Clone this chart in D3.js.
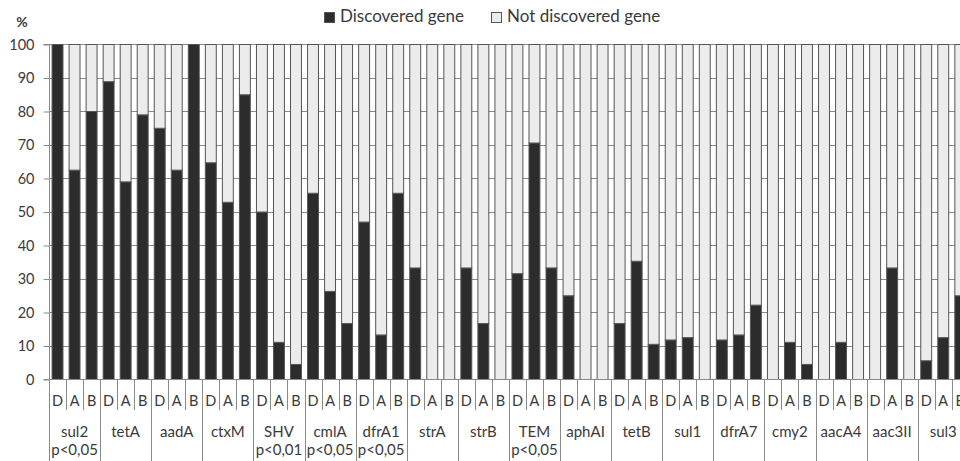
<!DOCTYPE html>
<html>
<head>
<meta charset="utf-8">
<script src="https://cdn.jsdelivr.net/npm/d3@7"></script>
<style>
  html, body { margin: 0; padding: 0; background: #fff; overflow: hidden; }
  svg { display: block; font-family: Lato, "Open Sans", sans-serif; }
</style>
</head>
<body>
<svg id="chart" width="960" height="461"></svg>
<script>
// ---- data ----
const genes = ["sul2","tetA","aadA","ctxM","SHV","cmlA","dfrA1","strA","strB","TEM","aphAI","tetB","sul1","dfrA7","cmy2","aacA4","aac3II","sul3"];
const pLabels = ["p<0,05","","","","p<0,01","p<0,05","p<0,05","","","p<0,05","","","","","","","",""];
const groupsSub = ["D","A","B"];
const discoveredD = [100, 88.9, 75, 64.7, 50, 55.6, 47, 33.3, 33.3, 31.6, 25, 16.7, 11.8, 11.8, 0, 0, 0, 5.6];
const discoveredA = [62.5, 59, 62.5, 52.9, 11.1, 26.3, 13.3, 0, 16.7, 70.6, 0, 35.3, 12.5, 13.3, 11.1, 11.1, 33.3, 12.5];
const discoveredB = [80, 79, 100, 85, 4.5, 16.7, 55.6, 0, 0, 33.3, 0, 10.5, 0, 22.2, 4.5, 0, 0, 25];
const yTicks = [0,10,20,30,40,50,60,70,80,90,100];
const seriesKeys = ["Discovered gene","Not discovered gene"];

(function () {
// ---- build table ----
const subValues = {D: discoveredD, A: discoveredA, B: discoveredB};
const rows = [];
genes.forEach((g, gi) => {
  groupsSub.forEach(s => {
    const v = subValues[s][gi];
    rows.push({key: g + "_" + s, gene: g, sub: s, "Discovered gene": v, "Not discovered gene": 100 - v});
  });
});
const stacked = d3.stack().keys(seriesKeys)(rows);

// ---- layout ----
const svg = d3.select("#chart");
const W = 960, H = 461;
const mLeft = 49, mTop = 44, mBottom = 379;
const step = 51.1 / 3;
const x = d3.scaleBand()
  .domain(rows.map(r => r.key))
  .range([mLeft, mLeft + step * rows.length])
  .paddingInner(0.3)
  .paddingOuter(0.15);
const y = d3.scaleLinear().domain([0, 100]).range([mBottom, mTop]);
const colors = {"Discovered gene": "#2c2c2c", "Not discovered gene": "#ececec"};
const textColor = "#3a3a3a";
const lineColor = "#8a8a8a";

// gridlines
svg.append("g").selectAll("line").data(yTicks).join("line")
  .attr("x1", mLeft).attr("x2", W)
  .attr("y1", d => Math.round(y(d)) + 0.5).attr("y2", d => Math.round(y(d)) + 0.5)
  .attr("stroke", lineColor).attr("stroke-width", 1);

// bars
svg.append("g").selectAll("g").data(stacked).join("g")
  .attr("fill", d => colors[d.key])
  .selectAll("rect").data(d => d).join("rect")
  .attr("x", d => x(d.data.key) + 0.5)
  .attr("y", d => y(d[1]) + 0.5)
  .attr("width", x.bandwidth() - 1)
  .attr("height", d => Math.max(0, y(d[0]) - y(d[1])))
  .attr("stroke", "#555")
  .attr("stroke-width", 1);

// y axis
const yAxis = d3.axisLeft(y).tickValues(yTicks).tickSize(6).tickPadding(9);
const yg = svg.append("g").attr("transform", `translate(${mLeft + 0.5},0.5)`).call(yAxis);
yg.select(".domain").attr("stroke", lineColor).attr("d", `M-6,${mTop}H0V${mBottom}H-6`);
yg.selectAll(".tick line").attr("stroke", lineColor);
yg.selectAll(".tick text").attr("fill", textColor).style("font-size", "14.5px").style("font-family", "Lato, sans-serif");

// % label
svg.append("text").attr("x", 22).attr("y", 27).attr("text-anchor", "middle")
  .attr("fill", textColor).style("font-size", "14px").style("font-weight", "bold").text("%");

// x axis line
svg.append("line").attr("x1", mLeft).attr("x2", W).attr("y1", mBottom + 0.5).attr("y2", mBottom + 0.5)
  .attr("stroke", lineColor);

// x sub labels & separators
const xg = svg.append("g");
rows.forEach((r, i) => {
  const slotStart = mLeft + step * i;
  xg.append("text").attr("x", x(r.key) + x.bandwidth() / 2).attr("y", 406)
    .attr("text-anchor", "middle").attr("fill", textColor).style("font-size", "14.5px").text(r.sub);
  if (i % 3 !== 0) {
    xg.append("line").attr("x1", Math.round(slotStart) + 0.5).attr("x2", Math.round(slotStart) + 0.5)
      .attr("y1", mBottom).attr("y2", 410).attr("stroke", lineColor);
  }
});
genes.forEach((g, gi) => {
  const gStart = mLeft + step * 3 * gi;
  xg.append("line").attr("x1", Math.round(gStart) + 0.5).attr("x2", Math.round(gStart) + 0.5)
    .attr("y1", mBottom).attr("y2", H).attr("stroke", lineColor);
  const cx = gStart + step * 1.5;
  xg.append("text").attr("x", cx).attr("y", 437).attr("text-anchor", "middle")
    .attr("fill", textColor).style("font-size", "15px").text(g);
  if (pLabels[gi]) {
    xg.append("text").attr("x", cx).attr("y", 455).attr("text-anchor", "middle")
      .attr("fill", textColor).style("font-size", "15px").text(pLabels[gi]);
  }
});

// legend
const legend = svg.append("g");
const legendPos = [{key: "Discovered gene", x: 324}, {key: "Not discovered gene", x: 491}];
legendPos.forEach(l => {
  legend.append("rect").attr("x", l.x + 0.5).attr("y", 12.5).attr("width", 10).attr("height", 10)
    .attr("fill", colors[l.key]).attr("stroke", "#555");
  legend.append("text").attr("x", l.x + 16).attr("y", 22).attr("fill", textColor)
    .style("font-size", "17px").text(l.key);
});
})();
</script>
</body>
</html>
